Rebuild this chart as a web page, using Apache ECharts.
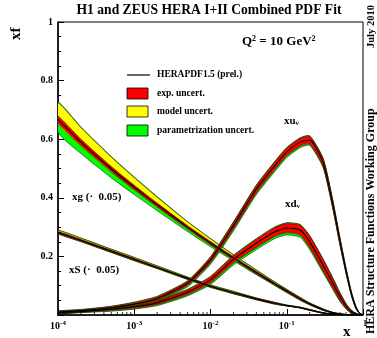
<!DOCTYPE html>
<html>
<head>
<meta charset="utf-8">
<script src="https://cdn.jsdelivr.net/npm/echarts@6/dist/echarts.min.js"></script>
<style>
  html, body { margin: 0; padding: 0; background: #fff; }
  #chart { width: 377px; height: 338px; }
</style>
</head>
<body>
<div id="chart"></div>
<script>
// x grid (log scale)
const xs = [1e-4, 2e-4, 5e-4, 1e-3, 2e-3, 5e-3, 0.01, 0.02, 0.04, 0.07, 0.1, 0.15, 0.2, 0.3, 0.4, 0.5, 0.6, 0.7, 0.8, 0.9, 1];

// xu_v
const xuvCentral = [0.010, 0.015, 0.025, 0.037, 0.056, 0.108, 0.188, 0.305, 0.430, 0.510, 0.557, 0.590, 0.597, 0.520, 0.380, 0.250, 0.150, 0.075, 0.028, 0.006, 0];
const xuvExp     = [0.002, 0.002, 0.003, 0.004, 0.005, 0.006, 0.008, 0.010, 0.011, 0.012, 0.012, 0.012, 0.012, 0.012, 0.011, 0.009, 0.007, 0.005, 0.003, 0.001, 0];
const xuvModUp   = [0.001, 0.001, 0.001, 0.002, 0.002, 0.002, 0.002, 0.002, 0.002, 0.002, 0.002, 0.002, 0.002, 0.002, 0.002, 0.002, 0.002, 0.001, 0.001, 0, 0];
const xuvModDn   = [0.001, 0.001, 0.001, 0.001, 0.001, 0.002, 0.002, 0.002, 0.002, 0.002, 0.002, 0.002, 0.002, 0.002, 0.002, 0.002, 0.001, 0.001, 0.001, 0, 0];
const xuvParUp   = [0.001, 0.001, 0.001, 0.001, 0.001, 0.001, 0.001, 0.001, 0.001, 0.001, 0.001, 0.001, 0.001, 0.001, 0.001, 0.001, 0.001, 0.001, 0, 0, 0];
const xuvParDn   = [0.001, 0.001, 0.002, 0.002, 0.003, 0.004, 0.005, 0.006, 0.006, 0.006, 0.006, 0.005, 0.004, 0.003, 0.002, 0.002, 0.001, 0.001, 0.001, 0, 0];

// xd_v
const xdvCentral = [0.008, 0.012, 0.020, 0.028, 0.042, 0.078, 0.120, 0.190, 0.245, 0.284, 0.297, 0.290, 0.250, 0.170, 0.110, 0.062, 0.030, 0.012, 0.004, 0.001, 0];
const xdvExp     = [0.002, 0.002, 0.003, 0.004, 0.005, 0.007, 0.009, 0.011, 0.013, 0.014, 0.015, 0.016, 0.018, 0.018, 0.015, 0.011, 0.007, 0.004, 0.002, 0.001, 0];
const xdvModUp   = [0.001, 0.001, 0.002, 0.002, 0.002, 0.002, 0.002, 0.002, 0.002, 0.002, 0.002, 0.002, 0.002, 0.002, 0.002, 0.002, 0.001, 0.001, 0, 0, 0];
const xdvModDn   = [0.001, 0.001, 0.002, 0.002, 0.002, 0.002, 0.002, 0.002, 0.002, 0.002, 0.002, 0.002, 0.002, 0.002, 0.002, 0.002, 0.001, 0.001, 0, 0, 0];
const xdvParUp   = [0.001, 0.001, 0.001, 0.001, 0.001, 0.001, 0.001, 0.001, 0.001, 0.001, 0.001, 0.001, 0.001, 0.001, 0.001, 0.001, 0.001, 0, 0, 0, 0];
const xdvParDn   = [0.001, 0.001, 0.002, 0.002, 0.003, 0.004, 0.005, 0.006, 0.007, 0.007, 0.007, 0.007, 0.007, 0.006, 0.005, 0.004, 0.002, 0.001, 0.001, 0, 0];

// xg (x 0.05)
const xgCentral = [0.668, 0.590, 0.499, 0.436, 0.376, 0.300, 0.246, 0.195, 0.145, 0.106, 0.082, 0.055, 0.038, 0.018, 0.008, 0.0035, 0.0015, 0.0007, 0.0003, 0.0001, 0];
const xgExp     = [0.011, 0.010, 0.008, 0.007, 0.006, 0.005, 0.005, 0.004, 0.004, 0.003, 0.003, 0.003, 0.002, 0.002, 0.001, 0.001, 0, 0, 0, 0, 0];
const xgModUp   = [0.045, 0.040, 0.032, 0.026, 0.020, 0.013, 0.009, 0.006, 0.004, 0.003, 0.002, 0.002, 0.001, 0.001, 0, 0, 0, 0, 0, 0, 0];
const xgModDn   = [0.003, 0.003, 0.003, 0.002, 0.002, 0.002, 0.002, 0.002, 0.001, 0.001, 0.001, 0.001, 0.001, 0, 0, 0, 0, 0, 0, 0, 0];
const xgParUp   = [0.002, 0.002, 0.002, 0.002, 0.002, 0.001, 0.001, 0.001, 0.001, 0.001, 0.001, 0, 0, 0, 0, 0, 0, 0, 0, 0, 0];
const xgParDn   = [0.030, 0.026, 0.020, 0.016, 0.012, 0.008, 0.006, 0.004, 0.003, 0.002, 0.002, 0.001, 0.001, 0, 0, 0, 0, 0, 0, 0, 0];

// xS (x 0.05)
const xsCentral = [0.282, 0.255, 0.218, 0.190, 0.162, 0.125, 0.098, 0.076, 0.055, 0.040, 0.032, 0.025, 0.017, 0.007, 0.003, 0.0015, 0.0007, 0.0003, 0.0001, 0, 0];
const xsExp     = [0.003, 0.003, 0.003, 0.003, 0.002, 0.002, 0.002, 0.002, 0.002, 0.002, 0.001, 0.001, 0.001, 0.001, 0, 0, 0, 0, 0, 0, 0];
const xsModUp   = [0.004, 0.004, 0.003, 0.003, 0.003, 0.002, 0.002, 0.002, 0.001, 0.001, 0.001, 0.001, 0.001, 0, 0, 0, 0, 0, 0, 0, 0];
const xsModDn   = [0.001, 0.001, 0.001, 0.001, 0.001, 0.001, 0.001, 0.001, 0.001, 0.001, 0, 0, 0, 0, 0, 0, 0, 0, 0, 0, 0];
const xsParUp   = [0.001, 0.001, 0.001, 0.001, 0.001, 0.001, 0.001, 0.001, 0, 0, 0, 0, 0, 0, 0, 0, 0, 0, 0, 0, 0];
const xsParDn   = [0.001, 0.001, 0.001, 0.001, 0.001, 0.001, 0.001, 0.001, 0, 0, 0, 0, 0, 0, 0, 0, 0, 0, 0, 0, 0];

const yTicks = [0, 0.2, 0.4, 0.6, 0.8, 1];
const xMinorTicks = [];
[1e-4, 1e-3, 1e-2, 1e-1].forEach(d => { for (let k = 2; k <= 9; k++) xMinorTicks.push(d * k); });

const legendLabels = ['HERAPDF1.5 (prel.)', 'exp. uncert.', 'model uncert.', 'parametrization uncert.'];

const FONT = '"Liberation Serif", "Times New Roman", serif';
const RED = '#ff0000', YEL = '#ffff00', GRN = '#00ff00';

function bandSeries(lo, hi, color) {
  return {
    type: 'custom',
    coordinateSystem: 'cartesian2d',
    silent: true,
    clip: true,
    data: xs.map((x, i) => [x, lo[i], hi[i]]),
    encode: { x: 0, y: [1, 2] },
    renderItem: (params, api) => {
      if (params.dataIndex !== 0) return null;
      const up = xs.map((x, i) => api.coord([x, hi[i]]));
      const dn = xs.map((x, i) => api.coord([x, lo[i]])).reverse();
      return {
        type: 'polygon',
        shape: { points: up.concat(dn), smooth: 0.2 },
        style: { fill: color, stroke: '#000', lineWidth: 0.5 }
      };
    }
  };
}

function pdfSeries(c, e, mu, md, pu, pd) {
  const redHi = c.map((v, i) => v + e[i]);
  const redLo = c.map((v, i) => Math.max(0, v - e[i]));
  const yelHi = redHi.map((v, i) => v + mu[i]);
  const yelLo = redLo.map((v, i) => Math.max(0, v - md[i]));
  const grnHi = yelHi.map((v, i) => v + pu[i]);
  const grnLo = yelLo.map((v, i) => Math.max(0, v - pd[i]));
  return [
    bandSeries(grnLo, grnHi, GRN),
    bandSeries(yelLo, yelHi, YEL),
    bandSeries(redLo, redHi, RED),
    {
      type: 'line',
      data: xs.map((x, i) => [x, c[i]]),
      showSymbol: false,
      smooth: 0.2,
      silent: true,
      lineStyle: { color: '#000', width: 1.1 }
    }
  ];
}

const chart = echarts.init(document.getElementById('chart'), null, { renderer: 'canvas' });

const txt = (o) => Object.assign({ fill: '#000', fontFamily: FONT, fontWeight: 'bold' }, o);

chart.setOption({
  animation: false,
  backgroundColor: '#fff',
  grid: { left: 58, right: 14, top: 22, bottom: 23, show: true, borderColor: '#000', borderWidth: 1, backgroundColor: 'transparent' },
  xAxis: {
    type: 'log', logBase: 10, min: 1e-4, max: 1,
    axisLine: { lineStyle: { color: '#000', width: 1.5 } },
    axisTick: { inside: true, length: 6, lineStyle: { color: '#000', width: 1 } },
    splitLine: { show: false },
    axisLabel: {
      margin: 5,
      formatter: v => v >= 1 ? '{one|1}' : '{b|10}{s|' + Math.round(Math.log10(v)) + '}',
      rich: {
        b: { fontFamily: FONT, fontWeight: 'bold', fontSize: 10, color: '#000' },
        s: { fontFamily: FONT, fontWeight: 'bold', fontSize: 7, color: '#000', padding: [0, 0, 5, 0] },
        one: { fontFamily: FONT, fontWeight: 'bold', fontSize: 8, color: '#000', padding: [0, 0, 6, 4] }
      }
    }
  },
  yAxis: {
    type: 'value', min: 0, max: 1, interval: 0.2,
    axisLine: { lineStyle: { color: '#000', width: 1.5 } },
    axisTick: { inside: true, length: 6, lineStyle: { color: '#000', width: 1 } },
    minorTick: { show: true, splitNumber: 4, length: 3, lineStyle: { color: '#000', width: 1 } },
    splitLine: { show: false },
    axisLabel: {
      margin: 5,
      color: '#000', fontFamily: FONT, fontWeight: 'bold', fontSize: 10,
      formatter: v => (yTicks.indexOf(v) <= 0 ? '' : (v === 1 ? '1' : v.toFixed(1)))
    }
  },
  series: [
    ...pdfSeries(xgCentral, xgExp, xgModUp, xgModDn, xgParUp, xgParDn),
    ...pdfSeries(xsCentral, xsExp, xsModUp, xsModDn, xsParUp, xsParDn),
    ...pdfSeries(xdvCentral, xdvExp, xdvModUp, xdvModDn, xdvParUp, xdvParDn),
    ...pdfSeries(xuvCentral, xuvExp, xuvModUp, xuvModDn, xuvParUp, xuvParDn),
    {
      type: 'scatter', silent: true, clip: false,
      data: xMinorTicks.map(x => [x, 0]),
      symbol: 'rect', symbolSize: [1, 3], symbolOffset: [0, -1.5],
      itemStyle: { color: '#000' }
    }
  ],
  graphic: [
    { type: 'text', x: 209, y: 3, style: txt({ text: 'H1 and ZEUS HERA I+II Combined PDF Fit', fontSize: 13.6, textAlign: 'center' }) },
    { type: 'text', x: 9, y: 40, rotation: Math.PI / 2, style: txt({ text: 'xf', fontSize: 15 }) },
    { type: 'text', x: 242, y: 35, style: txt({
        text: 'Q{s|2} = 10 GeV{s|2}', fontSize: 13,
        rich: { s: { fontSize: 8, fontFamily: FONT, fontWeight: 'bold', padding: [0, 0, 6, 0] } }
      }) },
    { type: 'line', shape: { x1: 127, y1: 75, x2: 150, y2: 75 }, style: { stroke: '#000', lineWidth: 1.2 } },
    { type: 'text', x: 157, y: 75, style: txt({ text: legendLabels[0], fontSize: 9.5, verticalAlign: 'middle' }) },
    { type: 'rect', shape: { x: 127, y: 88, width: 21, height: 11 }, style: { fill: RED, stroke: '#000', lineWidth: 0.8 } },
    { type: 'text', x: 157, y: 93.5, style: txt({ text: legendLabels[1], fontSize: 9.5, verticalAlign: 'middle' }) },
    { type: 'rect', shape: { x: 127, y: 106, width: 21, height: 11 }, style: { fill: YEL, stroke: '#000', lineWidth: 0.8 } },
    { type: 'text', x: 157, y: 111.5, style: txt({ text: legendLabels[2], fontSize: 9.5, verticalAlign: 'middle' }) },
    { type: 'rect', shape: { x: 127, y: 125, width: 21, height: 11 }, style: { fill: GRN, stroke: '#000', lineWidth: 0.8 } },
    { type: 'text', x: 157, y: 130.5, style: txt({ text: legendLabels[3], fontSize: 9.5, verticalAlign: 'middle' }) },
    { type: 'text', x: 284, y: 116, style: txt({
        text: 'xu{s|v}', fontSize: 11,
        rich: { s: { fontSize: 7, fontFamily: FONT, fontWeight: 'bold', padding: [4, 0, 0, 0] } }
      }) },
    { type: 'text', x: 285, y: 199, style: txt({
        text: 'xd{s|v}', fontSize: 11,
        rich: { s: { fontSize: 7, fontFamily: FONT, fontWeight: 'bold', padding: [4, 0, 0, 0] } }
      }) },
    { type: 'text', x: 72, y: 197, style: txt({ text: 'xg (\u00b7  0.05)', fontSize: 11, verticalAlign: 'middle' }) },
    { type: 'text', x: 69, y: 270, style: txt({ text: 'xS (\u00b7  0.05)', fontSize: 11, verticalAlign: 'middle' }) },
    { type: 'text', x: 343, y: 325, style: txt({ text: 'x', fontSize: 15 }) },
    { type: 'text', x: 366, y: 48, rotation: Math.PI / 2, style: txt({ text: 'July 2010', fontSize: 10.5 }) },
    { type: 'text', x: 365, y: 334, rotation: Math.PI / 2, style: txt({ text: 'HERA Structure Functions Working Group', fontSize: 12 }) }
  ]
});
</script>
</body>
</html>
